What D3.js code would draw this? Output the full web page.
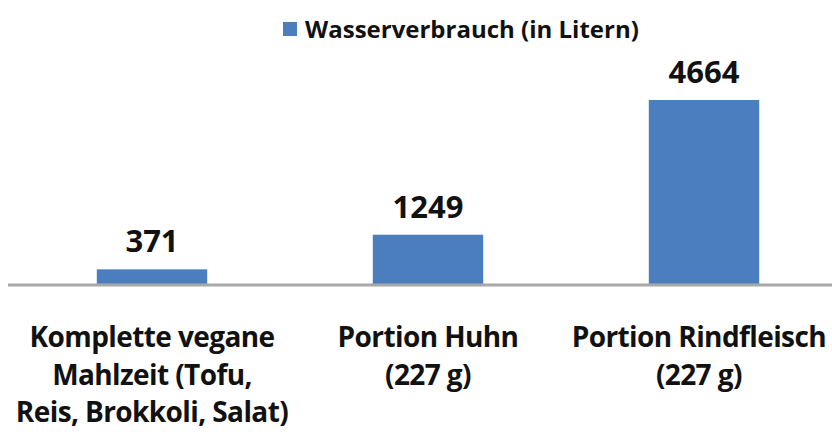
<!DOCTYPE html>
<html>
<head>
<meta charset="utf-8">
<script src="https://cdn.jsdelivr.net/npm/d3@7"></script>
<style>
  body { margin: 0; background: #fff; }
  text { font-family: "Open Sans", "DejaVu Sans", sans-serif; font-weight: 700; fill: #111; }
</style>
</head>
<body>
<svg id="svg_main" width="832" height="432"></svg>
<script>
// data
var categories = [
  ["Komplette vegane", "Mahlzeit (Tofu,", "Reis, Brokkoli, Salat)"],
  ["Portion Huhn", "(227 g)"],
  ["Portion Rindfleisch", "(227 g)"]
]
var values = [371, 1249, 4664]
var seriesName = "Wasserverbrauch (in Litern)"

var width = 832, height = 432
var baseY = 284

var svg = d3.select("#svg_main")

var x = d3.scaleBand()
    .domain(d3.range(values.length))
    .range([14, 842])
    .paddingInner(0.6)
    .paddingOuter(0.3)

var y = d3.scaleLinear()
    .domain([0, 4664])
    .range([baseY, 100])

// bars
svg.append("g")
    .selectAll("rect")
    .data(values)
    .enter()
    .append("rect")
      .attr("x", function(d, i){ return x(i) })
      .attr("y", function(d){ return y(d) })
      .attr("width", x.bandwidth())
      .attr("height", function(d){ return baseY - y(d) })
      .attr("fill", "#4a7ebf")

// axis line
svg.append("line")
    .attr("x1", 8).attr("x2", width)
    .attr("y1", baseY + 1).attr("y2", baseY + 1)
    .style("stroke", "#a8a8a8")
    .style("stroke-width", 3)

// value labels
svg.append("g")
    .selectAll("text")
    .data(values)
    .enter()
    .append("text")
      .attr("x", function(d, i){ return x(i) + x.bandwidth() / 2 })
      .attr("y", function(d){ return y(d) - 17 })
      .attr("text-anchor", "middle")
      .style("font-size", "31px")
      .text(function(d){ return d })

// category labels
var cat = svg.append("g")
    .selectAll("text")
    .data(categories)
    .enter()
    .append("text")
      .attr("x", function(d, i){ return x(i) + x.bandwidth() / 2 })
      .attr("y", 347)
      .attr("text-anchor", "middle")
      .style("font-size", "28px")
      .style("letter-spacing", "-0.6px")
cat.selectAll("tspan")
    .data(function(d){ return d })
    .enter()
    .append("tspan")
      .attr("x", function(){ return d3.select(this.parentNode).attr("x") })
      .attr("dy", function(d, i){ return i == 0 ? 0 : 37.5 })
      .text(function(d){ return d })

// keep the last label inside the right edge
cat.each(function(){
    var t = d3.select(this)
    var b = this.getBBox()
    var over = b.x + b.width - (width - 6)
    if (over > 0) {
        var nx = +t.attr("x") - over
        t.attr("x", nx)
        t.selectAll("tspan").attr("x", nx)
    }
})

// legend
var lg = svg.append("g")
lg.append("rect")
    .attr("x", 283).attr("y", 22)
    .attr("width", 14).attr("height", 14)
    .attr("fill", "#4a7ebf")
lg.append("text")
    .attr("x", 305).attr("y", 38)
    .style("font-size", "24px")
    .text(seriesName)
</script>
</body>
</html>
